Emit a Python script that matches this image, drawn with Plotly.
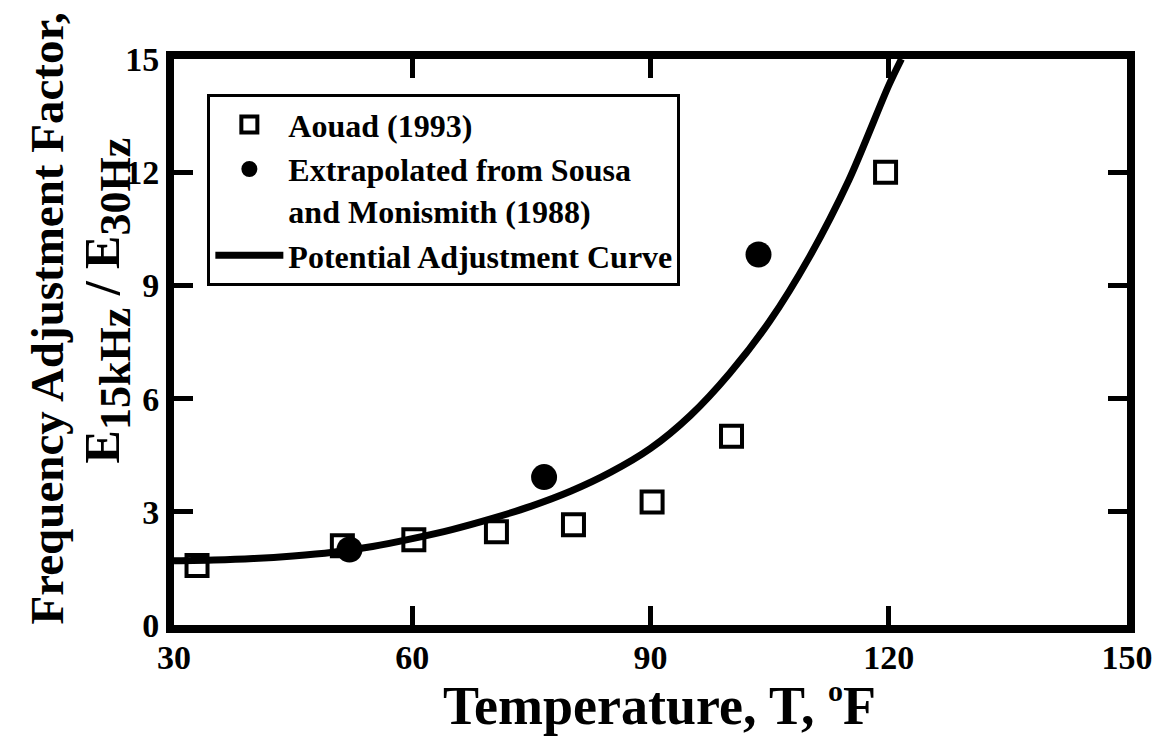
import plotly.graph_objects as go

# Data
aouad_T = [32.9, 51.2, 60.2, 70.6, 80.3, 90.2, 100.2, 119.6]
aouad_F = [1.58, 2.10, 2.26, 2.47, 2.66, 3.26, 5.00, 12.00]

sousa_T = [52.1, 76.6, 103.6]
sousa_F = [2.00, 3.92, 9.82]

curve_T = [30, 35, 40, 45, 50, 55, 60, 65, 70, 75, 80, 85, 90, 95, 100, 105, 110, 115, 120, 121.6]
curve_F = [1.70, 1.72, 1.76, 1.83, 1.93, 2.08, 2.29, 2.53, 2.82, 3.15, 3.55, 4.05, 4.68, 5.55, 6.68, 8.05, 9.75, 11.80, 14.30, 15.0]

x_ticks = [30, 60, 90, 120, 150]
y_ticks = [0, 3, 6, 9, 12, 15]

FONT = "Liberation Serif"

fig = go.Figure()
fig.add_trace(go.Scatter(
    x=aouad_T, y=aouad_F, mode="markers", name="Aouad (1993)",
    marker=dict(symbol="square-open", size=21, color="black", line=dict(width=4, color="black")),
))
fig.add_trace(go.Scatter(
    x=sousa_T, y=sousa_F, mode="markers", name="Extrapolated from Sousa<br>and Monismith (1988)",
    marker=dict(symbol="circle", size=26, color="black"),
))
fig.add_trace(go.Scatter(
    x=curve_T, y=curve_F, mode="lines", name="Potential Adjustment Curve",
    line=dict(color="black", width=7, shape="spline", smoothing=0.8),
))

axis_common = dict(
    showline=True, linecolor="black", linewidth=8, mirror="ticks",
    ticks="inside", ticklen=19, tickwidth=5, tickcolor="black",
    showgrid=False, zeroline=False,
    tickfont=dict(family=FONT, size=34, color="black", weight="bold"),
)

fig.update_layout(
    width=1157, height=737,
    paper_bgcolor="white", plot_bgcolor="white",
    margin=dict(l=166, r=36, t=51, b=120),
    font=dict(family=FONT, color="black"),
    xaxis=dict(range=[30, 150], tickvals=x_ticks, ticklabelstandoff=-5, **axis_common),
    yaxis=dict(range=[0, 15], tickvals=y_ticks, **axis_common),
    showlegend=True,
    legend=dict(
        x=0.035, y=0.938, xanchor="left", yanchor="top",
        bordercolor="black", borderwidth=3, bgcolor="white",
        font=dict(family=FONT, size=32, color="black", weight="bold"),
        valign="top", itemwidth=68, tracegroupgap=0,
    ),
)

fig.add_annotation(
    text="<b>Temperature, T, <sup><span style='font-size:30px'>o</span></sup>F</b>", xref="paper", yref="paper",
    x=0.509, y=-0.142, xanchor="center", yanchor="middle", showarrow=False,
    font=dict(family=FONT, size=54, color="black"),
)
fig.add_annotation(
    text="<b>Frequency Adjustment Factor,</b>", xref="paper", yref="paper",
    x=-0.133, y=0.542, xanchor="center", yanchor="middle", showarrow=False, textangle=-90,
    font=dict(family=FONT, size=47, color="black"),
)
fig.add_annotation(
    text="<b>E<sub><span style='font-size:44px'>15kHz</span></sub> / E<sub><span style='font-size:44px'>30Hz</span></sub></b>",
    xref="paper", yref="paper",
    x=-0.070, y=0.574, xanchor="center", yanchor="middle", showarrow=False, textangle=-90,
    font=dict(family=FONT, size=50, color="black"),
)

fig.write_html("out.html")
